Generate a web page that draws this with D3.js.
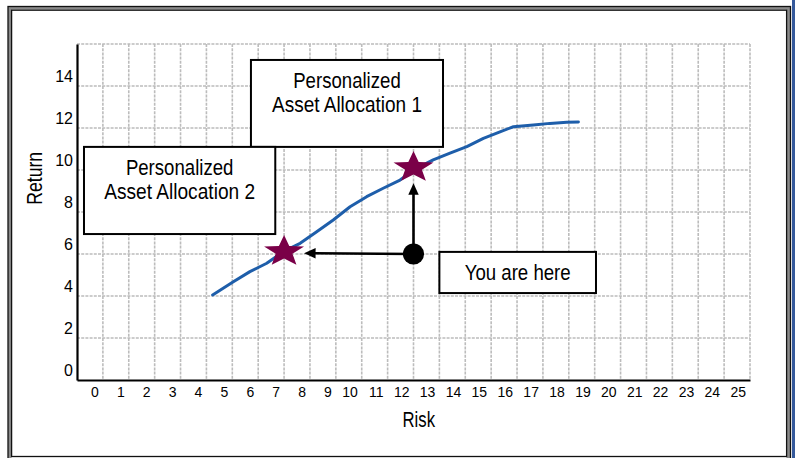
<!DOCTYPE html>
<html>
<head>
<meta charset="utf-8">
<script src="https://cdn.jsdelivr.net/npm/d3@7/dist/d3.min.js"></script>
<style>
  html, body { margin: 0; padding: 0; background: #fff; }
  svg { display: block; }
  text { font-family: "Liberation Sans", Arial, sans-serif; fill: #000; }
</style>
</head>
<body>
<div id="chart"></div>
<script>
// Risk / return frontier with two personalized allocations and the current position.
const xLabels = d3.range(0, 26).map(String);          // risk tick labels
const yTicks = [0, 2, 4, 6, 8, 10, 12, 14];           // return tick labels
const frontierRisk   = [5.24, 6.04, 6.68, 7.33, 7.97, 8.62, 9.26, 9.90, 10.55, 11.19, 11.83, 12.48,
                        13.12, 13.76, 14.41, 15.06, 15.70, 16.34, 16.86, 17.63, 18.27, 18.92, 19.37];
const frontierReturn = [4.05, 4.68, 5.16, 5.56, 6.11, 6.51, 7.06, 7.62, 8.25, 8.73, 9.13, 9.52,
                        10.08, 10.48, 10.80, 11.11, 11.51, 11.82, 12.06, 12.14, 12.22, 12.27, 12.29];
const allocationNames  = ["Personalized Asset Allocation 1", "Personalized Asset Allocation 2"];
const allocationRisk   = [13, 8];
const allocationReturn = [10, 6];
const currentRisk = 13, currentReturn = 6;
const currentLabel = "You are here";

const W = 796, H = 458;
const svg = d3.select("#chart").append("svg").attr("width", W).attr("height", H);

// Frame: double black rule with a grey band between
svg.append("rect").attr("x", 9.75).attr("y", 8).attr("width", 778.5).attr("height", 460)
  .attr("fill", "none").attr("stroke", "#8a8a8a").attr("stroke-width", 3.5);
svg.append("rect").attr("x", 8).attr("y", 6.5).attr("width", 782.5).attr("height", 470)
  .attr("fill", "none").attr("stroke", "#111").attr("stroke-width", 1.3);
svg.append("rect").attr("x", 11.6).attr("y", 10.2).attr("width", 775).attr("height", 446.3)
  .attr("fill", "none").attr("stroke", "#111").attr("stroke-width", 1.3);
svg.append("rect").attr("x", 792).attr("y", 0).attr("width", 3).attr("height", H).attr("fill", "#35599b");

const x = d3.scaleLinear().domain([0, 26]).range([77, 750]);
const y = d3.scaleLinear().domain([0, 16]).range([380, 44]);
const xBand = d3.scaleBand().domain(xLabels).range([x(0), x(26)]).padding(0);

// Dotted grid
const grid = svg.append("g").attr("stroke", "#bcbcbc").attr("stroke-width", 1.6)
  .attr("stroke-dasharray", "3,1.2");
grid.selectAll("line.v").data(d3.range(1, 27)).join("line").attr("class", "v")
  .attr("x1", d => x(d)).attr("x2", d => x(d)).attr("y1", y(16)).attr("y2", y(0));
grid.selectAll("line.h").data(d3.range(2, 17, 2)).join("line").attr("class", "h")
  .attr("x1", x(0)).attr("x2", x(26)).attr("y1", d => y(d)).attr("y2", d => y(d));

// Axes
const xAxis = svg.append("g").attr("transform", `translate(0,${y(0)})`)
  .call(d3.axisBottom(xBand).tickSize(0).tickPadding(0));
xAxis.select(".domain").attr("stroke", "#000").attr("stroke-width", 2.2);
xAxis.selectAll("text").attr("x", xBand.bandwidth() / 2 - 4).attr("y", 16.5).attr("dy", 0)
  .attr("text-anchor", "end").style("font-size", "14px")
  .style("font-family", "'Liberation Sans', Arial, sans-serif").attr("fill", "#000");

const yAxis = svg.append("g").attr("transform", `translate(${x(0)},0)`)
  .call(d3.axisLeft(y).tickValues(yTicks).tickSize(0).tickPadding(4).tickFormat(d3.format("d")));
yAxis.select(".domain").attr("stroke", "#000").attr("stroke-width", 2.2);
yAxis.selectAll("text").attr("y", -4.5).attr("dy", 0).style("font-size", "16px")
  .style("font-family", "'Liberation Sans', Arial, sans-serif").attr("fill", "#000");

// Axis titles
svg.append("text").attr("transform", "translate(41.5,178.3) rotate(-90)")
  .attr("text-anchor", "middle").style("font-size", "22px")
  .attr("textLength", 53).attr("lengthAdjust", "spacingAndGlyphs").text("Return");
svg.append("text").attr("x", 418.8).attr("y", 426.5)
  .attr("text-anchor", "middle").style("font-size", "22px")
  .attr("textLength", 32.5).attr("lengthAdjust", "spacingAndGlyphs").text("Risk");

// Annotation boxes (placed in data space)
function labelBox(x0, x1, y0, y1, lines, widths) {
  const g = svg.append("g");
  g.append("rect").attr("x", x(x0)).attr("y", y(y0))
    .attr("width", x(x1) - x(x0)).attr("height", y(y1) - y(y0))
    .attr("fill", "#fff").attr("stroke", "#000").attr("stroke-width", 2);
  const cx = (x(x0) + x(x1)) / 2;
  lines.forEach((t, i) => {
    g.append("text").attr("x", cx).attr("y", y(y0) + 28 + i * 23.6)
      .attr("text-anchor", "middle").style("font-size", "22px")
      .attr("textLength", widths[i]).attr("lengthAdjust", "spacingAndGlyphs").text(t);
  });
}
const splitName = s => [s.slice(0, 12), s.slice(13)];
labelBox(6.72, 14.14, 15.24, 11.1, splitName(allocationNames[0]), [107.5, 150]);

// Frontier curve
const line = d3.line().x(d => x(d[0])).y(d => y(d[1]));
svg.append("path").datum(d3.zip(frontierRisk, frontierReturn))
  .attr("d", line).attr("fill", "none").attr("stroke", "#1e5eaa")
  .attr("stroke-width", 3).attr("stroke-linejoin", "round").attr("stroke-linecap", "round");

labelBox(0.27, 7.66, 11.1, 6.95, splitName(allocationNames[1]), [107.5, 151]);
labelBox(14.0, 20.05, 6.1, 4.14, [currentLabel], [106]);

// Arrows from the current position to each allocation
function arrow(x0, y0, x1, y1, stopShort) {
  const dx = x1 - x0, dy = y1 - y0, len = Math.hypot(dx, dy);
  const ux = dx / len, uy = dy / len;
  const tx = x1 - ux * stopShort, ty = y1 - uy * stopShort;
  const hl = 11.5, hw = 5.2;
  const bx = tx - ux * hl, by = ty - uy * hl;
  svg.append("line").attr("x1", x0).attr("y1", y0).attr("x2", bx + ux * 1).attr("y2", by + uy * 1)
    .attr("stroke", "#000").attr("stroke-width", 2.6);
  svg.append("path").attr("d",
    `M${tx},${ty}L${bx - uy * hw},${by + ux * hw}L${bx + uy * hw},${by - ux * hw}Z`)
    .attr("fill", "#000");
}
arrow(x(currentRisk), y(currentReturn), x(allocationRisk[1]), y(allocationReturn[1]) - 1, 20);
arrow(x(currentRisk), y(currentReturn), x(allocationRisk[0]), y(allocationReturn[0]), 13.3);

svg.append("circle").attr("cx", x(currentRisk)).attr("cy", y(currentReturn)).attr("r", 10.6)
  .attr("fill", "#000");

// Star markers for the allocations
function starPath(rx, ry, oy) {
  const pts = [];
  for (let i = 0; i < 10; i++) {
    const a = -Math.PI / 2 + i * Math.PI / 5;
    const k = i % 2 === 0 ? 1 : 0.42;
    pts.push([Math.cos(a) * rx * k, oy + Math.sin(a) * ry * k]);
  }
  return "M" + pts.map(p => p.join(",")).join("L") + "Z";
}
svg.selectAll("path.star").data(d3.zip(allocationRisk, allocationReturn)).join("path")
  .attr("class", "star")
  .attr("transform", d => `translate(${x(d[0])},${y(d[1])})`)
  .attr("d", starPath(21, 16.5, -2.5)).attr("fill", "#7a0048");
</script>
</body>
</html>
